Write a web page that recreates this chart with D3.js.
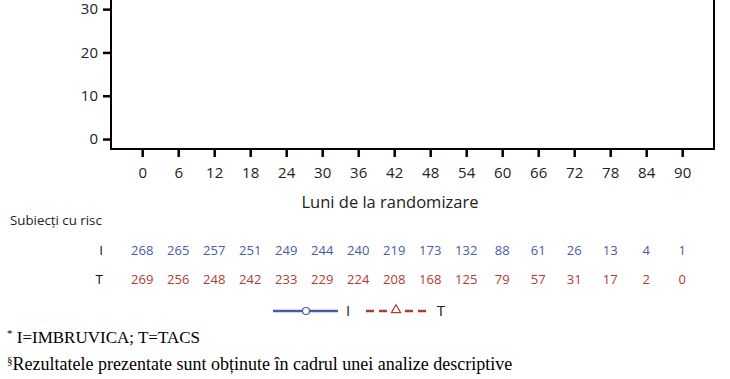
<!DOCTYPE html>
<html>
<head>
<meta charset="utf-8">
<script src="https://cdn.jsdelivr.net/npm/d3@7"></script>
<style>
  body { margin: 0; background: #fff; }
  svg { display: block; }
  .sans { font-family: "Open Sans", "Noto Sans", sans-serif; }
  .serif { font-family: "Liberation Serif", "Times New Roman", serif; }
</style>
</head>
<body>
<svg id="chart" width="730" height="379"></svg>
<script>
// luni de la randomizare
var months = [0, 6, 12, 18, 24, 30, 36, 42, 48, 54, 60, 66, 72, 78, 84, 90];
var yTicks = [0, 10, 20, 30];
// subiecti cu risc
var riskI = [268, 265, 257, 251, 249, 244, 240, 219, 173, 132, 88, 61, 26, 13, 4, 1];
var riskT = [269, 256, 248, 242, 233, 229, 224, 208, 168, 125, 79, 57, 31, 17, 2, 0];
var seriesNames = ["I", "T"];

var blue = "#4a5ba6", red = "#b03c34";

var svg = d3.select("#chart");

// scale — graficul e taiat sus, se vede doar partea 0..30
var x = d3.scaleLinear().domain([-5.2, 95.3]).range([111, 714]);
var y = d3.scaleLinear().domain([-2.3, 100]).range([149, -294]);

// cadru
svg.append("path")
  .attr("d", "M" + x.range()[0] + "," + y(100) + "V" + y.range()[0] + "H" + x.range()[1] + "V" + y(100))
  .attr("fill", "none")
  .attr("stroke", "#000")
  .attr("stroke-width", 2);

// axa y
var gy = svg.append("g").attr("class", "sans")
  .attr("transform", "translate(" + x.range()[0] + ",0)")
  .call(d3.axisLeft(y).tickValues(yTicks).tickSize(8).tickPadding(5));
gy.select(".domain").remove();
gy.selectAll(".tick line").attr("stroke-width", 2.5);
gy.selectAll(".tick text").attr("font-size", 15).attr("fill", "#222");

// axa x
var gx = svg.append("g").attr("class", "sans")
  .attr("transform", "translate(0," + y.range()[0] + ")")
  .call(d3.axisBottom(x).tickValues(months).tickSize(8).tickPadding(10));
gx.select(".domain").remove();
gx.selectAll(".tick line").attr("stroke-width", 2.5);
gx.selectAll(".tick text").attr("font-size", 15).attr("fill", "#222");

svg.append("text").attr("class", "sans")
  .attr("x", 390).attr("y", 208)
  .attr("text-anchor", "middle")
  .attr("font-size", 16.5)
  .attr("fill", "#222")
  .text("Luni de la randomizare");

// tabel subiecti cu risc
svg.append("text").attr("class", "sans")
  .attr("x", 10).attr("y", 225)
  .attr("font-size", 13.3)
  .attr("fill", "#222")
  .text("Subiecți cu risc");

var rows = [
  { name: seriesNames[0], values: riskI, color: blue, y: 255 },
  { name: seriesNames[1], values: riskT, color: red, y: 284 }
];

rows.forEach(function (r) {
  svg.append("text").attr("class", "sans")
    .attr("x", 103).attr("y", r.y)
    .attr("text-anchor", "end")
    .attr("font-size", 13.5)
    .attr("fill", "#111")
    .text(r.name);

  svg.append("g").attr("class", "sans")
    .selectAll("text")
    .data(r.values)
    .join("text")
    .attr("x", function (d, i) { return x(months[i]); })
    .attr("y", r.y)
    .attr("text-anchor", "middle")
    .attr("font-size", 13)
    .attr("fill", r.color)
    .text(function (d) { return d; });
});

// legenda
var lg = svg.append("g").attr("transform", "translate(0,311)");
lg.append("line").attr("x1", 273).attr("x2", 338)
  .attr("stroke", blue).attr("stroke-width", 2.5);
lg.append("circle").attr("cx", 306).attr("r", 3.5)
  .attr("fill", "#fff").attr("stroke", blue).attr("stroke-width", 1.2);
lg.append("text").attr("class", "sans")
  .attr("x", 348).attr("y", 5).attr("text-anchor", "middle")
  .attr("font-size", 15).attr("fill", "#222").text(seriesNames[0]);

lg.append("line").attr("x1", 366).attr("x2", 428)
  .attr("stroke", red).attr("stroke-width", 2.5)
  .attr("stroke-dasharray", "8,5");
lg.append("path")
  .attr("d", d3.symbol(d3.symbolTriangle, 36)())
  .attr("transform", "translate(396,-1)")
  .attr("fill", "#fff").attr("stroke", red).attr("stroke-width", 1.2);
lg.append("text").attr("class", "sans")
  .attr("x", 441).attr("y", 5).attr("text-anchor", "middle")
  .attr("font-size", 15).attr("fill", "#222").text(seriesNames[1]);

// note de subsol
var n1 = svg.append("text").attr("class", "serif")
  .attr("x", 7).attr("y", 343).attr("font-size", 17).attr("fill", "#000");
n1.append("tspan").attr("font-size", 11).attr("dy", -6).text("*");
n1.append("tspan").attr("dy", 6).text(" I=IMBRUVICA; T=TACS");

var n2 = svg.append("text").attr("class", "serif")
  .attr("x", 7).attr("y", 370).attr("font-size", 18).attr("fill", "#000");
n2.append("tspan").attr("font-size", 11).attr("dy", -6).text("§");
n2.append("tspan").attr("dy", 6).text("Rezultatele prezentate sunt obținute în cadrul unei analize descriptive");
</script>
</body>
</html>
